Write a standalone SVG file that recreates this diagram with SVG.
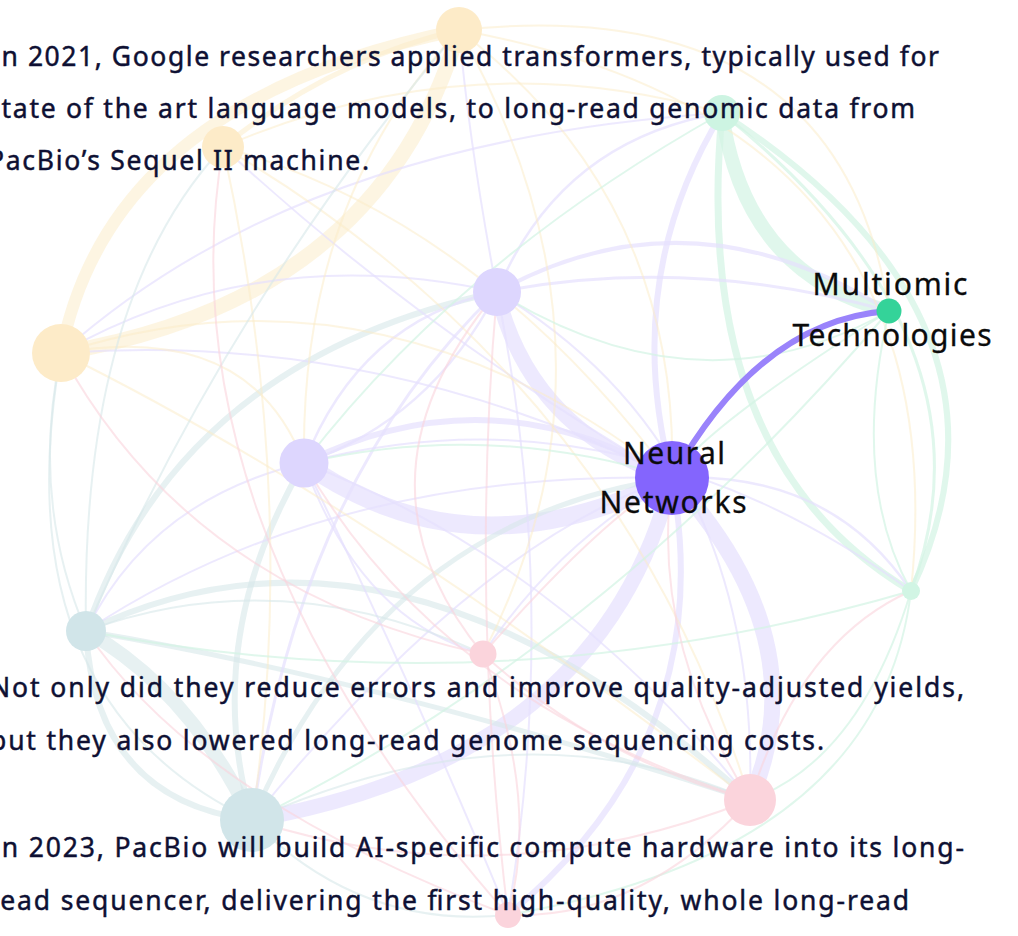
<svg xmlns="http://www.w3.org/2000/svg" width="1018" height="936" viewBox="0 0 1018 936">
<style>
.e{fill:none;stroke-linecap:round}
.ep{stroke:#e6e0fd;opacity:.7}
.ey{stroke:#fcebc6;opacity:.5}
.eg{stroke:#d3f4e4;opacity:.7}
.et{stroke:#d7e8ea;opacity:.6}
.er{stroke:#fad3dc;opacity:.6}
.body{font-family:"Noto Sans","Open Sans","Liberation Sans",sans-serif;font-size:26.5px;fill:#0e1033;stroke:#0e1033;stroke-width:0.45px}
.lbl{font-family:"Noto Sans","Open Sans","Liberation Sans",sans-serif;font-size:30px;fill:#0b0b0b;stroke:#0b0b0b;stroke-width:0.3px;text-anchor:middle}
</style>
<rect width="1018" height="936" fill="#ffffff"/>
<g id="connectors">
  <path class="e ey" stroke-width="12" d="M61,353 Q110,100 459,30"/>
  <path class="e ey" stroke-width="15" d="M61,353 Q380,300 459,30"/>
  <path class="e eg" stroke-width="14" d="M722,113 Q745,275 889,311"/>
  <path class="e ep" stroke-width="15" d="M497,292 Q530,430 672,478"/>
  <path class="e ep" stroke-width="18" d="M304,463 Q470,580 672,478"/>
  <path class="e ep" stroke-width="16" d="M672,478 Q820,640 750,800"/>
  <path class="e ep" stroke-width="15" d="M672,478 Q600,760 252,820"/>
  <path class="e et" stroke-width="14" d="M86,631 Q190,690 252,820"/>
  <path class="e ep" stroke-width="6" d="M304,463 Q490,370 672,478"/>
  <path class="e ep" stroke-width="6" d="M722,113 Q620,280 672,478"/>
  <path class="e ep" stroke-width="6" d="M672,478 Q720,740 508,915"/>
  <path class="e eg" stroke-width="7" d="M722,113 Q690,460 911,591"/>
  <path class="e eg" stroke-width="6" d="M722,113 Q1040,320 911,591"/>
  <path class="e eg" stroke-width="3" d="M722,113 Q1005,340 911,591"/>
  <path class="e et" stroke-width="6" d="M86,631 Q180,360 497,292"/>
  <path class="e et" stroke-width="6" d="M252,820 Q200,640 304,463"/>
  <path class="e et" stroke-width="6" d="M86,631 Q95,800 252,820"/>
  <path class="e et" stroke-width="5" d="M86,631 Q380,680 750,800"/>
  <path class="e et" stroke-width="6" d="M86,631 Q400,480 750,800"/>
  <path class="e et" stroke-width="5" d="M252,820 Q380,520 672,478"/>
  <path class="e ey" stroke-width="5" d="M459,30 Q330,60 223,147"/>
  <path class="e ep" stroke-width="4" d="M497,292 Q690,185 889,311"/>
  <path class="e ep" stroke-width="3" d="M497,292 Q690,255 889,311"/>
  <path class="e ep" stroke-width="2.5" d="M497,292 Q360,320 304,463"/>
  <path class="e ep" stroke-width="2.5" d="M497,292 Q430,420 304,463"/>
  <path class="e ep" stroke-width="2.5" d="M497,292 Q560,140 722,113"/>
  <path class="e ep" stroke-width="2" d="M497,292 Q470,150 459,30"/>
  <path class="e ep" stroke-width="3" d="M497,292 Q300,480 252,820"/>
  <path class="e ep" stroke-width="2" d="M497,292 Q560,600 508,915"/>
  <path class="e ep" stroke-width="2" d="M497,292 Q760,450 750,800"/>
  <path class="e ep" stroke-width="2" d="M304,463 Q560,560 750,800"/>
  <path class="e ep" stroke-width="2.5" d="M672,478 Q830,470 911,591"/>
  <path class="e ep" stroke-width="2" d="M672,478 Q330,470 86,631"/>
  <path class="e ep" stroke-width="2" d="M672,478 Q480,540 252,820"/>
  <path class="e ep" stroke-width="2" d="M304,463 Q150,500 86,631"/>
  <path class="e ep" stroke-width="2" d="M304,463 Q420,700 508,915"/>
  <path class="e ep" stroke-width="2" d="M304,463 Q620,380 911,591"/>
  <path class="e ep" stroke-width="2" d="M672,478 Q380,330 61,353"/>
  <path class="e ep" stroke-width="2" d="M497,292 Q260,240 61,353"/>
  <path class="e ep" stroke-width="2" d="M672,478 Q560,540 483,654"/>
  <path class="e ep" stroke-width="2" d="M304,463 Q360,620 483,654"/>
  <path class="e ep" stroke-width="2" d="M223,147 Q420,330 672,478"/>
  <path class="e ep" stroke-width="2" d="M61,353 Q300,140 722,113"/>
  <path class="e ey" stroke-width="2" d="M459,30 Q840,-10 889,311"/>
  <path class="e ey" stroke-width="2" d="M459,30 Q960,120 911,591"/>
  <path class="e ey" stroke-width="2" d="M459,30 Q680,200 672,478"/>
  <path class="e ey" stroke-width="2" d="M459,30 Q300,200 304,463"/>
  <path class="e ey" stroke-width="2" d="M223,147 Q480,220 672,478"/>
  <path class="e ey" stroke-width="2" d="M223,147 Q470,40 722,113"/>
  <path class="e ey" stroke-width="2" d="M61,353 Q380,250 672,478"/>
  <path class="e ey" stroke-width="2" d="M61,353 Q360,500 750,800"/>
  <path class="e ey" stroke-width="2" d="M223,147 Q300,500 252,820"/>
  <path class="e ey" stroke-width="2" d="M459,30 Q640,350 483,654"/>
  <path class="e ey" stroke-width="2" d="M223,147 Q620,380 750,800"/>
  <path class="e ey" stroke-width="2" d="M61,353 Q250,320 304,463"/>
  <path class="e eg" stroke-width="2" d="M889,311 Q850,480 911,591"/>
  <path class="e eg" stroke-width="2" d="M497,292 Q700,418 889,311"/>
  <path class="e eg" stroke-width="2" d="M722,113 Q460,260 304,463"/>
  <path class="e eg" stroke-width="2" d="M889,311 Q600,650 252,820"/>
  <path class="e eg" stroke-width="2" d="M911,591 Q880,850 508,915"/>
  <path class="e eg" stroke-width="2" d="M911,591 Q860,760 750,800"/>
  <path class="e eg" stroke-width="2" d="M86,631 Q500,711 911,591"/>
  <path class="e eg" stroke-width="2" d="M304,463 Q490,420 672,478"/>
  <path class="e eg" stroke-width="2" d="M889,311 Q700,430 672,478"/>
  <path class="e et" stroke-width="2" d="M86,631 Q280,560 483,654"/>
  <path class="e et" stroke-width="2" d="M252,820 Q360,930 508,915"/>
  <path class="e et" stroke-width="2" d="M86,631 Q80,300 223,147"/>
  <path class="e et" stroke-width="2" d="M61,353 Q30,500 86,631"/>
  <path class="e et" stroke-width="2" d="M252,820 Q0,700 61,353"/>
  <path class="e et" stroke-width="2" d="M252,820 Q520,700 750,800"/>
  <path class="e et" stroke-width="2" d="M86,631 Q230,300 459,30"/>
  <path class="e er" stroke-width="2" d="M61,353 Q190,590 483,654"/>
  <path class="e er" stroke-width="2" d="M483,654 Q600,760 750,800"/>
  <path class="e er" stroke-width="2" d="M483,654 Q540,800 508,915"/>
  <path class="e er" stroke-width="2" d="M483,654 Q340,480 497,292"/>
  <path class="e er" stroke-width="2" d="M508,915 Q160,520 223,147"/>
  <path class="e er" stroke-width="2" d="M750,800 Q500,900 252,820"/>
  <path class="e er" stroke-width="2" d="M508,915 Q200,800 86,631"/>
  <path class="e er" stroke-width="2" d="M750,800 Q440,700 304,463"/>
  <path class="e er" stroke-width="2" d="M750,800 Q800,640 911,591"/>
  <path class="e er" stroke-width="2" d="M750,800 Q650,640 672,478"/>
  <path class="e er" stroke-width="2" d="M508,915 Q640,920 750,800"/>
  <path class="e er" stroke-width="2" d="M483,654 Q600,520 672,478"/>
  <path class="e er" stroke-width="2" d="M508,915 Q470,600 497,292"/>
  <path class="e" stroke="#9a83fb" stroke-width="6" d="M672,478 Q760,320 889,311"/>
</g>
<g id="node-y1"><circle cx="459" cy="30" r="23" fill="#fdebc8"/></g>
<g id="node-y2"><circle cx="223" cy="147" r="21" fill="#fdebc8"/></g>
<g id="node-y3"><circle cx="61" cy="353" r="29" fill="#fdebc8"/></g>
<g id="node-g1"><circle cx="722" cy="113" r="18" fill="#cdf4e2"/></g>
<g id="node-p1"><circle cx="497" cy="292" r="24" fill="#ddd6fe"/></g>
<g id="node-p2"><circle cx="304" cy="463" r="24.5" fill="#ddd6fe"/></g>
<g id="node-g2"><circle cx="911" cy="591" r="9" fill="#d1f5e4"/></g>
<g id="node-t1"><circle cx="86" cy="631" r="20" fill="#d1e5e9"/></g>
<g id="node-r1"><circle cx="483" cy="654" r="13.5" fill="#fbd4dc"/></g>
<g id="node-t2"><circle cx="252" cy="820" r="32" fill="#d1e5e9"/></g>
<g id="node-r2"><circle cx="750" cy="800" r="26" fill="#fbd4dc"/></g>
<g id="node-r3"><circle cx="508" cy="915" r="13" fill="#fbd4dc"/></g>
<g id="node-neural">
  <circle cx="672" cy="478" r="37" fill="#8465fd"/>
  <text class="lbl" x="674" y="464" textLength="102">Neural</text>
  <text class="lbl" x="673" y="513" textLength="147">Networks</text>
</g>
<g id="node-multiomic">
  <circle cx="889" cy="311" r="12.5" fill="#34d399"/>
  <text class="lbl" x="890" y="295" textLength="155">Multiomic</text>
  <text class="lbl" x="892" y="346" textLength="199">Technologies</text>
</g>
<g id="caption">
  <text class="body" x="-9" y="66" textLength="948">In 2021, Google researchers applied transformers, typically used for</text>
  <text class="body" x="-13" y="118" textLength="928">state of the art language models, to long-read genomic data from</text>
  <text class="body" x="-12" y="170" textLength="381">PacBio’s Sequel II machine.</text>
  <text class="body" x="-10" y="697" textLength="974">Not only did they reduce errors and improve quality-adjusted yields,</text>
  <text class="body" x="-10" y="750" textLength="834">but they also lowered long-read genome sequencing costs.</text>
  <text class="body" x="-9" y="857" textLength="973">In 2023, PacBio will build AI-specific compute hardware into its long-</text>
  <text class="body" x="-12" y="910" textLength="921">read sequencer, delivering the first high-quality, whole long-read</text>
</g>
</svg>
